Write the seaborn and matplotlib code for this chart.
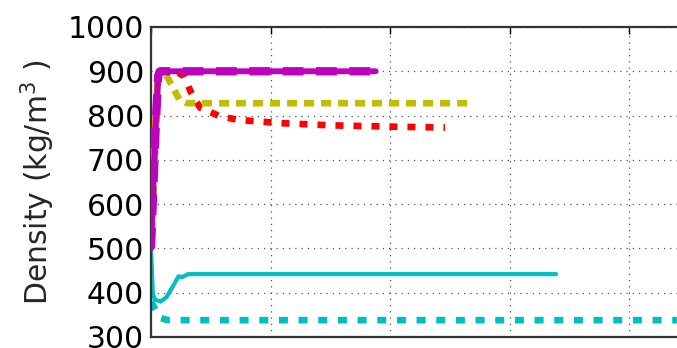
import matplotlib
matplotlib.use("Agg")
import matplotlib.pyplot as plt
import seaborn as sns
import pandas as pd

# Density histories for each run (time in arbitrary units, density in kg/m^3)
magenta_t = [0.0, 0.02, 0.04, 0.06, 0.08, 1.88]
magenta_rho = [500, 640, 780, 890, 900, 900]

orange_t = [0.0, 0.03, 0.05, 1.88]
orange_rho = [700, 860, 900, 900]

blue_t = [0.06, 1.88]
blue_rho = [900, 900]

red_t = [0.0, 0.06, 0.2, 0.28, 0.33, 0.41, 0.58, 0.74, 1.08, 1.5, 2.0, 2.46]
red_rho = [500, 900, 902, 888, 855, 818, 798, 790, 783, 778, 775, 773]

yellow_t = [0.0, 0.06, 0.12, 0.18, 0.24, 0.30, 2.67]
yellow_rho = [500, 900, 895, 865, 835, 828, 828]

cyan_t = [0.0, 0.015, 0.03, 0.08, 0.13, 0.18, 0.22, 0.23, 0.26, 0.31, 3.39]
cyan_rho = [500, 400, 385, 380, 390, 413, 432, 437, 435, 442, 442]

cyan_d_t = [0.0, 0.04, 0.08, 0.14, 4.7]
cyan_d_rho = [380, 360, 343, 338, 338]

y_ticks = [300, 400, 500, 600, 700, 800, 900, 1000]
x_ticks = [0, 1, 2, 3, 4, 5]

sns.set_style("white")
plt.rcParams["font.family"] = ["DejaVu Sans"]

fig = plt.figure(figsize=(6.77, 3.48), dpi=100)
ax = fig.add_axes([151 / 677, 11 / 348, 597.5 / 677, 310 / 348])


def draw(t, rho, z, **kw):
    df = pd.DataFrame({"t": t, "rho": rho})
    sns.lineplot(data=df, x="t", y="rho", ax=ax, estimator=None, sort=False,
                 legend=False, zorder=z, **kw)


draw(red_t, red_rho, 2, color="#ff0000", linewidth=4.8, dashes=(1.2, 1.5))
draw(yellow_t, yellow_rho, 2, color=(0.75, 0.75, 0), linewidth=4.8,
     dashes=(1.5, 1.05))
draw(cyan_t, cyan_rho, 2, color=(0, 0.75, 0.75), linewidth=3)
draw(cyan_d_t, cyan_d_rho, 2, color=(0, 0.75, 0.75), linewidth=4.8,
     dashes=(1.35, 1.6))
draw(orange_t, orange_rho, 3, color="#e8741a", linewidth=1.2)
draw(blue_t, blue_rho, 3, color="#2a2ae0", linewidth=3)
draw(magenta_t, magenta_rho, 4, color=(0.75, 0, 0.75), linewidth=4.2)
draw(magenta_t, magenta_rho, 4, color=(0.75, 0, 0.75), linewidth=6,
     dashes=(2.5, 1.5))

ax.set_xlim(0, 5)
ax.set_ylim(300, 1000)
ax.set_xticks(x_ticks)
ax.set_yticks(y_ticks)
ax.set_yticklabels([str(v) for v in y_ticks], fontsize=21.5)
ax.set_xticklabels([])
ax.set_xlabel("")
ax.set_ylabel("Density (kg/m$^3$ )", fontsize=21.5, labelpad=8)

ax.grid(True, linestyle=(0, (1, 4)), color="#555555", linewidth=0.9)
ax.tick_params(direction="in", length=5, width=1, top=True, right=True,
               pad=5, colors="black")
for s in ax.spines.values():
    s.set_linewidth(1.6)
    s.set_color("#333333")

fig.savefig("out.png", dpi=100)
